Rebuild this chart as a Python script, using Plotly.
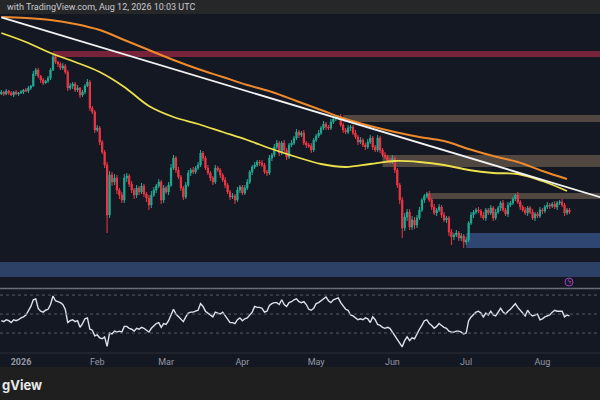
import pandas as pd
import plotly.graph_objects as go

# daily candles, Dec 24 2025 -> Aug 12 2026 (price units)
first_open = 206
close = [
    208, 206, 209, 207, 205, 208, 206, 207, 208, 210,
    209, 212, 214, 226, 230, 224, 220, 217, 219, 222,
    230, 243, 238, 236, 232, 234, 228, 212, 214, 216,
    210, 212, 205, 208, 214, 218, 192, 188, 170, 172,
    158, 148, 135, 85, 125, 118, 122, 110, 105, 100,
    122, 124, 116, 110, 105, 112, 108, 114, 106, 102,
    95, 105, 110, 114, 118, 100, 112, 108, 115, 132,
    142, 130, 123, 112, 103, 115, 127, 130, 128, 132,
    135, 147, 142, 132, 127, 122, 118, 132, 130, 125,
    120, 115, 108, 103, 104, 100, 110, 113, 107, 112,
    118, 128, 133, 135, 138, 137, 135, 128, 127, 142,
    145, 153, 157, 147, 157, 150, 143, 155, 157, 162,
    168, 165, 167, 157, 155, 154, 150, 160, 164, 167,
    172, 176, 173, 172, 178, 181, 182, 183, 175, 170,
    168, 172, 173, 167, 163, 158, 160, 155, 153, 158,
    162, 153, 150, 162, 150, 145, 143, 140, 138, 142,
    130, 115, 100, 72, 83, 88, 73, 80, 75, 82,
    90, 100, 104, 106, 100, 93, 87, 90, 93, 85,
    80, 82, 68, 63, 65, 67, 62, 64, 58, 60,
    77, 85, 88, 90, 89, 85, 82, 90, 87, 92,
    82, 88, 92, 97, 90, 86, 95, 97, 101, 105,
    98, 93, 90, 87, 92, 88, 82, 86, 84, 90,
    89, 93, 95, 94, 96, 93, 97, 98, 95, 87,
    90, 88,
]
wick_up = [
    2, 1, 2, 1, 2, 1, 2, 1, 2, 1,
    2, 2, 1, 3, 2, 2, 1, 2, 1, 2,
    2, 3, 2, 1, 2, 3, 2, 2, 3, 2,
    2, 3, 1, 2, 2, 3, 2, 2, 2, 3,
    2, 2, 2, 3, 4, 3, 4, 3, 2, 3,
    4, 3, 2, 3, 2, 3, 2, 3, 2, 2,
    3, 4, 3, 2, 3, 2, 3, 2, 3, 4,
    3, 2, 3, 2, 2, 3, 3, 2, 3, 2,
    3, 3, 2, 2, 3, 2, 2, 3, 2, 2,
    2, 3, 2, 2, 3, 2, 3, 2, 2, 3,
    3, 2, 2, 3, 2, 2, 3, 2, 2, 3,
    2, 3, 3, 2, 2, 3, 2, 2, 3, 2,
    3, 2, 2, 3, 2, 2, 3, 2, 2, 3,
    2, 3, 2, 2, 3, 2, 2, 2, 3, 2,
    2, 3, 2, 2, 3, 2, 3, 2, 2, 3,
    3, 2, 2, 3, 2, 2, 3, 2, 2, 3,
    2, 2, 2, 3, 4, 3, 3, 4, 3, 3,
    3, 2, 2, 2, 3, 2, 3, 2, 3, 2,
    3, 2, 2, 3, 2, 3, 2, 3, 2, 3,
    2, 3, 2, 2, 3, 2, 3, 2, 2, 3,
    2, 3, 2, 2, 3, 2, 3, 2, 2, 1,
    3, 2, 2, 3, 2, 2, 3, 2, 2, 3,
    2, 2, 3, 2, 2, 3, 2, 2, 3, 2,
    2, 2,
]
wick_dn = [
    1, 2, 1, 2, 1, 2, 1, 2, 1, 2,
    1, 2, 2, 1, 2, 2, 3, 2, 1, 2,
    2, 1, 2, 3, 2, 2, 2, 3, 2, 3,
    2, 2, 3, 2, 2, 1, 3, 2, 3, 2,
    3, 2, 3, 18, 3, 4, 3, 4, 4, 3,
    3, 4, 3, 3, 4, 3, 3, 2, 3, 4,
    5, 3, 2, 3, 2, 4, 3, 2, 3, 2,
    2, 3, 2, 3, 3, 2, 2, 3, 2, 2,
    2, 2, 3, 2, 2, 3, 3, 2, 2, 3,
    2, 3, 2, 3, 2, 4, 2, 3, 2, 2,
    2, 2, 3, 2, 2, 3, 2, 2, 3, 2,
    3, 2, 2, 3, 2, 2, 3, 2, 2, 2,
    2, 3, 2, 2, 3, 2, 3, 2, 2, 2,
    2, 2, 3, 2, 2, 2, 2, 2, 2, 3,
    2, 2, 3, 2, 2, 3, 2, 2, 3, 2,
    2, 3, 2, 2, 3, 2, 2, 3, 2, 2,
    3, 3, 4, 10, 3, 4, 3, 3, 4, 3,
    2, 2, 3, 2, 2, 3, 2, 3, 2, 3,
    2, 3, 4, 8, 3, 2, 3, 3, 6, 3,
    2, 2, 3, 2, 2, 3, 2, 3, 2, 2,
    3, 2, 2, 3, 2, 2, 3, 2, 2, 2,
    2, 3, 2, 2, 3, 2, 2, 3, 2, 2,
    3, 2, 2, 3, 2, 2, 3, 2, 2, 3,
    2, 2,
]
rsi = [
    43, 42, 44, 43, 41, 44, 43, 44, 46, 47,
    49, 54, 58, 65, 66, 56, 53, 52, 54, 55,
    60, 69, 64, 63, 62, 60, 55, 41, 43, 44,
    42, 43, 36, 40, 45, 46, 34, 33, 27, 28,
    25, 24, 26, 16, 30, 29, 32, 31, 32, 31,
    37, 37, 35, 34, 32, 35, 34, 36, 35, 33,
    31, 35, 38, 40, 41, 36, 40, 39, 43, 50,
    55, 50, 47, 44, 42, 47, 51, 52, 52, 53,
    54, 61, 58, 53, 51, 49, 47, 52, 51, 50,
    52, 48, 44, 41, 41, 40, 44, 46, 43, 45,
    46, 49, 52, 58, 57, 57, 56, 52, 53, 59,
    61, 62, 62, 60, 65, 60, 58, 62, 63, 65,
    66, 63, 62, 63, 60, 55, 54, 56, 61, 62,
    64, 66, 68, 64, 62, 65, 66, 67, 62, 58,
    55, 54, 49, 48, 46, 44, 45, 44, 46, 45,
    41, 47, 44, 39, 38, 36, 35, 36, 35, 31,
    27, 23, 20, 15.5, 22, 26, 22, 25, 24, 30,
    34, 38, 43, 44, 40, 38, 35, 37, 40, 38,
    36, 35, 32, 31, 31, 32, 32, 31, 29, 30,
    43, 47, 50, 52, 53, 51, 47, 51, 49, 53,
    49, 48, 52, 56, 52, 50, 53, 55, 58, 61,
    57, 54, 51, 48, 54, 50, 48, 49, 50, 44,
    45, 47, 48, 49, 52, 54, 53, 53, 53, 47,
    49, 48,
]

# moving averages read every 10 days
ma_fast = [267, 258, 247, 238, 228, 213, 194, 183, 176, 168, 160, 151,
           143, 136, 133, 136, 139, 138, 135, 130, 127, 126, 119, 109]
ma_slow = [283, 282, 280, 276, 270, 260, 250, 240, 231, 223, 215, 208,
           199, 190, 181, 174, 168, 163, 159, 151, 144, 138, 129, 121]

trend_dates = ["2025-12-24", "2026-08-25"]
trend_values = [282.6, 102.5]

zone_start = ["2026-01-14", "2026-05-12", "2026-05-28", "2026-06-15", "2026-07-01", "2025-12-20"]
zone_low = [243, 178, 133, 101, 52, 23]
zone_high = [249, 185, 145, 107, 67, 38]

rsi_levels = [70, 50, 30]
month_ticks = ["2026-01-01", "2026-02-01", "2026-03-01", "2026-04-01",
               "2026-05-01", "2026-06-01", "2026-07-01", "2026-08-01"]
month_labels = ["<b>2026</b>", "Feb", "Mar", "Apr", "May", "Jun", "Jul", "Aug"]

dates = pd.date_range("2025-12-24", periods=len(close), freq="D")
ma_dates = pd.date_range("2025-12-24", periods=len(ma_fast), freq="10D")
open_ = [first_open] + close[:-1]
high = [max(o, c) + w for o, c, w in zip(open_, close, wick_up)]
low = [min(o, c) - w for o, c, w in zip(open_, close, wick_dn)]

x_range = ["2025-12-23 11:00", "2026-08-24 10:00"]
bg = "#141823"
zone_fill = ["rgba(200,45,80,0.55)", "rgba(190,160,120,0.35)", "rgba(190,160,120,0.35)",
             "rgba(190,160,120,0.35)", "rgba(70,110,180,0.55)", "rgba(70,105,170,0.5)"]

fig = go.Figure()
fig.add_trace(go.Candlestick(
    x=dates, open=open_, high=high, low=low, close=close,
    increasing=dict(line=dict(color="#22ab94", width=1), fillcolor="#22ab94"),
    decreasing=dict(line=dict(color="#f23645", width=1), fillcolor="#f23645"),
    whiskerwidth=0, xaxis="x", yaxis="y", showlegend=False,
))
fig.add_trace(go.Scatter(x=ma_dates, y=ma_slow, mode="lines", line=dict(color="#ee8a2c", width=2, shape="spline"),
                         xaxis="x", yaxis="y", showlegend=False))
fig.add_trace(go.Scatter(x=ma_dates, y=ma_fast, mode="lines", line=dict(color="#ece04c", width=1.8, shape="spline"),
                         xaxis="x", yaxis="y", showlegend=False))
fig.add_trace(go.Scatter(x=trend_dates, y=trend_values, mode="lines", line=dict(color="#f2f2f2", width=1.8),
                         xaxis="x", yaxis="y", showlegend=False))
fig.add_trace(go.Scatter(x=dates, y=rsi, mode="lines", line=dict(color="#dde1ea", width=1.4),
                         xaxis="x2", yaxis="y2", showlegend=False))

shapes = []
for s, lo, hi, col in zip(zone_start, zone_low, zone_high, zone_fill):
    shapes.append(dict(type="rect", xref="x", yref="y", x0=s, x1=x_range[1], y0=lo, y1=hi,
                       fillcolor=col, line=dict(width=0), layer="below"))
for lv in rsi_levels:
    shapes.append(dict(type="line", xref="paper", yref="y2", x0=0, x1=1, y0=lv, y1=lv,
                       line=dict(color="#575b66", width=1, dash="dot")))
# header / footer bars and pane separators
shapes.append(dict(type="rect", xref="paper", yref="paper", x0=0, x1=1, y0=0.965, y1=1,
                   fillcolor="#262729", line=dict(width=0), layer="above"))
shapes.append(dict(type="rect", xref="paper", yref="paper", x0=0, x1=1, y0=0, y1=0.0825,
                   fillcolor="#1f1f1f", line=dict(width=0), layer="above"))
shapes.append(dict(type="line", xref="paper", yref="paper", x0=0, x1=1, y0=0.2785, y1=0.2785,
                   line=dict(color="#6a6d75", width=1.5)))
shapes.append(dict(type="line", xref="paper", yref="paper", x0=0, x1=1, y0=0.1175, y1=0.1175,
                   line=dict(color="#2a2e39", width=1)))
shapes.append(dict(type="circle", xref="paper", yref="paper", x0=565 / 600, x1=573 / 600,
                   y0=1 - 286 / 400, y1=1 - 278 / 400, line=dict(color="#a03cbf", width=1)))

fig.update_layout(
    width=600, height=400,
    margin=dict(l=0, r=0, t=0, b=0),
    paper_bgcolor=bg, plot_bgcolor=bg,
    shapes=shapes,
    xaxis=dict(domain=[0, 1], range=x_range, anchor="y", showticklabels=False, showgrid=False,
               zeroline=False, rangeslider=dict(visible=False), showline=False),
    yaxis=dict(domain=[0.28, 0.965], range=[12, 286], showticklabels=False, showgrid=False, zeroline=False),
    xaxis2=dict(domain=[0, 1], range=x_range, anchor="y2", showgrid=False, zeroline=False,
                tickvals=month_ticks, ticktext=month_labels, ticks="", ticklabelstandoff=2,
                tickfont=dict(color="#9598a1", size=9, family="Roboto")),
    yaxis2=dict(domain=[0.1175, 0.275], range=[9, 75.3], showticklabels=False, showgrid=False, zeroline=False),
    annotations=[
        dict(text="with TradingView.com, Aug 12, 2026 10:03 UTC", xref="paper", yref="paper",
             x=5 / 600, y=1 - 7 / 400, xanchor="left", yanchor="middle", showarrow=False,
             font=dict(color="#c9ccd3", size=9, family="Roboto")),
        dict(text="<b>gView</b>", xref="paper", yref="paper", x=0, y=1 - 385 / 400,
             xanchor="left", yanchor="middle", showarrow=False,
             font=dict(color="#e8e8e8", size=13, family="Inter")),
        dict(text="ϟ", xref="paper", yref="paper", x=569 / 600, y=1 - 282 / 400,
             xanchor="center", yanchor="middle", showarrow=False,
             font=dict(color="#b04ac8", size=7, family="DejaVu Sans")),
    ],
)

fig.write_html("out.html", config={"displayModeBar": False},
               post_script="document.body.style.margin='0';")
